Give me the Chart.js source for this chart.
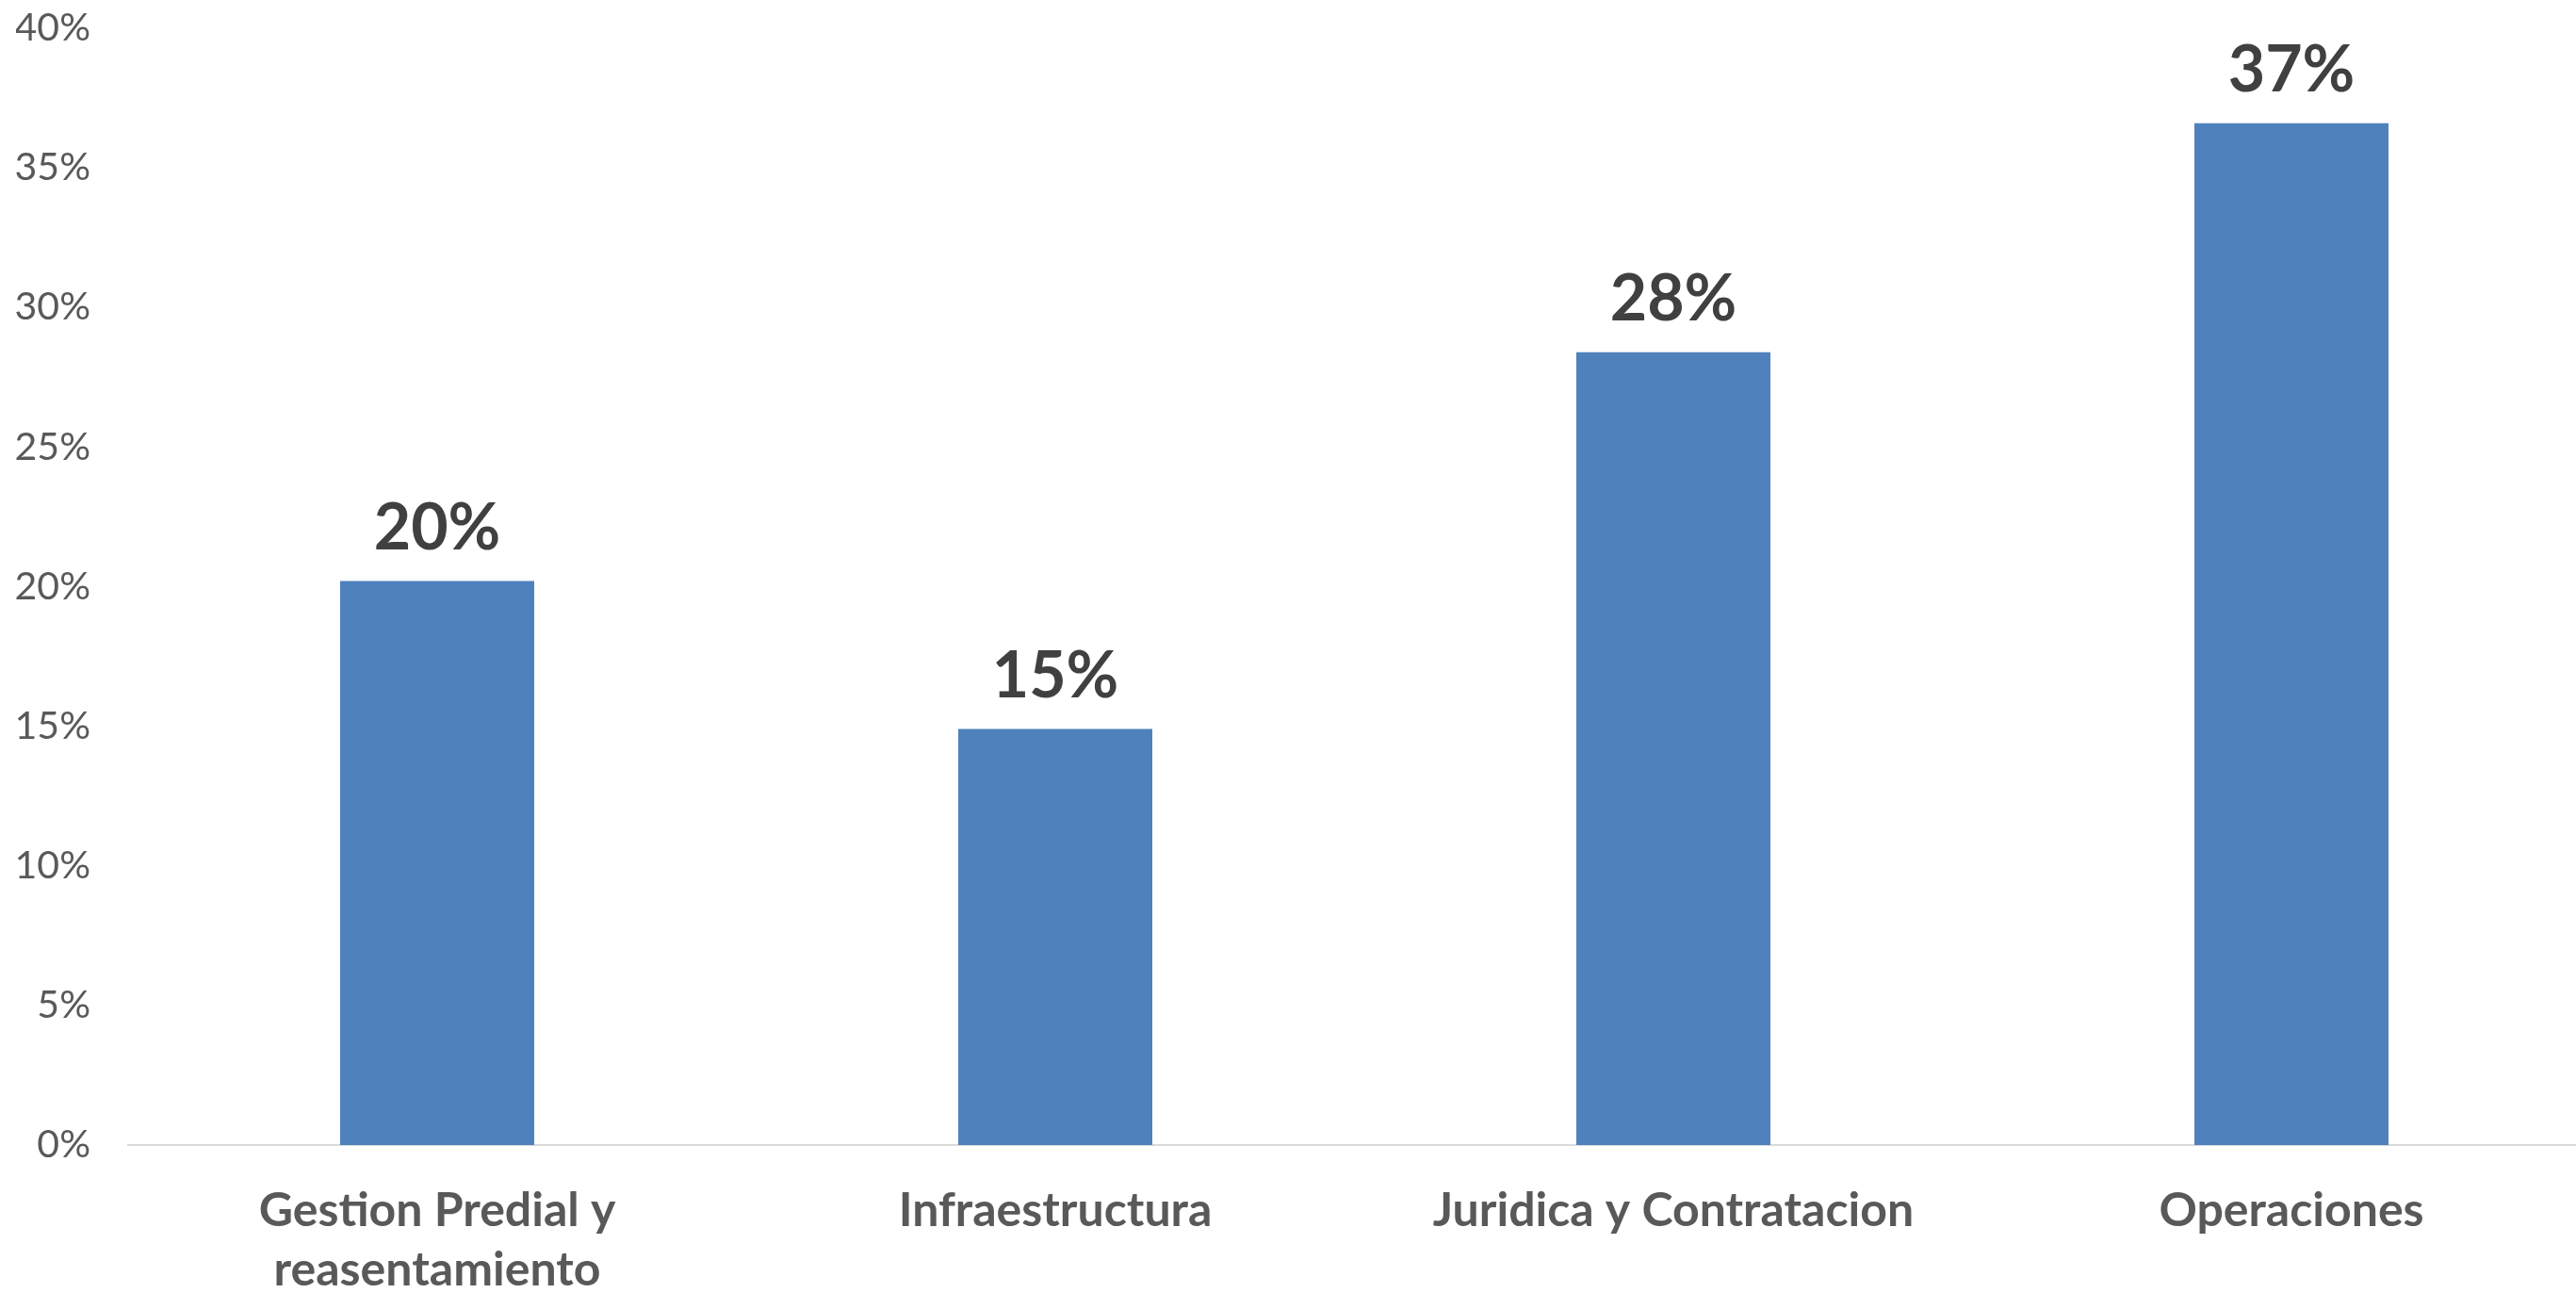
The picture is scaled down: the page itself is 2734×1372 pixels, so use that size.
<!DOCTYPE html>
<html lang="es">
<head>
    <meta charset="UTF-8">
    <title>Distribución por área</title>
    <script src="https://cdn.jsdelivr.net/npm/chart.js"></script>
    <style>
        html, body { margin: 0; padding: 0; background: #fff; overflow: hidden; }
        #wrap { width: 2760px; height: 1372px; position: relative; }
    </style>
</head>
<body>
    <div id="wrap"><canvas id="areasChart"></canvas></div>

    <script>
        // share of each area, in percent
        const areas = [['Gestion Predial y', 'reasentamiento'], 'Infraestructura', 'Juridica y Contratacion', 'Operaciones'];
        const shares = [20.2, 14.9, 28.4, 36.6];
        const yTicks = [0, 5, 10, 15, 20, 25, 30, 35, 40];

        // prints the rounded value above each bar
        const barValues = {
            id: 'barValues',
            afterDatasetsDraw(chart) {
                let ctx = chart.ctx;
                let meta = chart.getDatasetMeta(0);
                ctx.save();
                ctx.font = 'bold 68px Lato';
                ctx.fillStyle = '#404040';
                ctx.textAlign = 'center';
                ctx.textBaseline = 'bottom';
                meta.data.forEach((bar, i) => {
                    ctx.fillText(Math.round(shares[i]) + '%', bar.x, bar.y - 22);
                });
                ctx.restore();
            }
        };

        let ctx = document.getElementById('areasChart').getContext('2d');
        let chart = new Chart(ctx, {
            type: 'bar',
            data: {
                labels: areas,
                datasets: [{
                    data: shares,
                    backgroundColor: '#4F81BD',
                    borderWidth: 0,
                    barPercentage: 0.314,
                    categoryPercentage: 1
                }]
            },
            options: {
                responsive: true,
                maintainAspectRatio: false,
                animation: false,
                layout: { padding: { top: 30, left: 17, right: 0, bottom: 0 } },
                plugins: {
                    legend: { display: false },
                    tooltip: { enabled: false }
                },
                scales: {
                    x: {
                        afterFit(axis) {
                            axis.height = 157;
                            axis.paddingLeft = 0;
                            axis.paddingRight = 0;
                        },
                        grid: { display: false, drawTicks: false },
                        border: { display: true, color: '#d9d9d9', width: 2 },
                        ticks: {
                            color: '#595959',
                            font: { family: 'Lato', size: 50, weight: 'bold', lineHeight: 1.26 },
                            padding: 38,
                            maxRotation: 0,
                            autoSkip: false
                        }
                    },
                    y: {
                        min: 0,
                        max: 40,
                        afterBuildTicks(axis) {
                            axis.ticks = yTicks.map(v => ({ value: v }));
                        },
                        afterFit(axis) {
                            axis.width = 119;
                            axis.paddingTop = 0;
                            axis.paddingBottom = 0;
                        },
                        grid: { display: false, drawTicks: false },
                        border: { display: false },
                        ticks: {
                            color: '#595959',
                            font: { family: 'Lato', size: 41 },
                            padding: 40,
                            callback: v => v + '%'
                        }
                    }
                }
            },
            plugins: [barValues]
        });
    </script>
</body>
</html>
